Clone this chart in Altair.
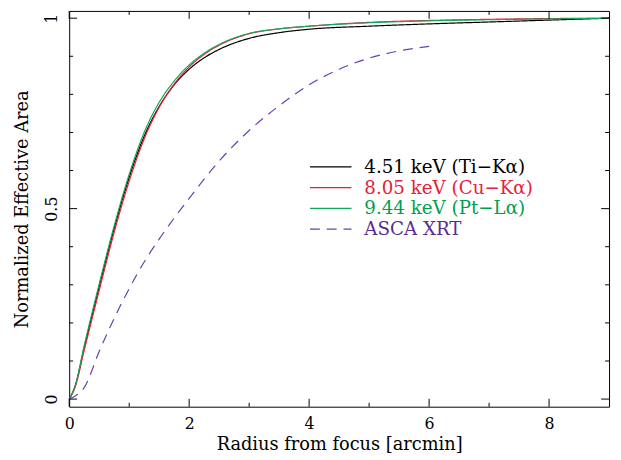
import altair as alt
import pandas as pd

# ---- data ----
r_main = [0, 0.1, 0.25, 0.5, 0.75, 1.0, 1.25, 1.5, 1.75, 2.0, 2.25, 2.5, 3.0, 3.5, 4.0, 5.0, 6.0, 7.0, 8.0, 9.0]
ti_k = [0, .035, .135, .295, .448, .582, .690, .768, .825, .866, .896, .918, .947, .962, .971, .979, .985, .990, .995, 1.0]
cu_k = [0, .032, .128, .285, .438, .572, .683, .766, .827, .872, .905, .929, .959, .972, .979, .989, .994, .997, .999, 1.0]
pt_l = [0, .035, .140, .302, .455, .590, .700, .779, .835, .877, .908, .931, .960, .972, .979, .988, .993, .996, .998, 1.0]

r_asca = [0, 0.1, 0.25, 0.5, 0.75, 1.0, 1.25, 1.5, 2.0, 2.5, 3.0, 3.5, 4.0, 4.5, 5.0, 5.5, 6.0]
asca = [0, .008, .030, .125, .212, .290, .360, .420, .527, .625, .705, .770, .825, .866, .895, .914, .926]

labels = ["4.51 keV (Ti\u2212K\u03b1)", "8.05 keV (Cu\u2212K\u03b1)", "9.44 keV (Pt\u2212L\u03b1)", "ASCA XRT"]
line_colors = ["#000000", "#ee1c32", "#12a85a", "#6a3fb0"]
text_colors = ["#000000", "#e8203a", "#00a050", "#5a2d8f"]
dashes = [[1, 0], [1, 0], [1, 0], [10, 7]]

x_major = [0, 2, 4, 6, 8]
x_minor = [1, 3, 5, 7]
y_major = [0, 0.5, 1]
y_minor = [0.1, 0.2, 0.3, 0.4, 0.6, 0.7, 0.8, 0.9]

x_title = "Radius from focus [arcmin]"
y_title = "Normalized Effective Area"

rows = []
for lab, vals in zip(labels[:3], [ti_k, cu_k, pt_l]):
    for r, v in zip(r_main, vals):
        rows.append({"r": r, "v": v, "series": lab})
for r, v in zip(r_asca, asca):
    rows.append({"r": r, "v": v, "series": labels[3]})
df = pd.DataFrame(rows)

W, H = 547, 401
FONT = "DejaVu Serif"

xs = alt.Scale(domain=[0, 9], nice=False, zero=False)
ys = alt.Scale(domain=[-0.02, 1.019], nice=False, zero=False)

x_axis = alt.Axis(values=x_major, ticks=False, domain=False, grid=False, labelFlush=False,
                  labelPadding=9, titlePadding=4, format="~g")
y_axis = alt.Axis(values=y_major, ticks=False, domain=False, grid=False, labelFlush=False,
                  labelAngle=270, labelAlign="center", labelBaseline="bottom",
                  labelPadding=10, titlePadding=12, format="~g")

label_expr = " : ".join(
    f"datum.label == '{l}' ? '{c}'" for l, c in zip(labels[:-1], text_colors[:-1])
) + f" : '{text_colors[-1]}'"

lines = alt.Chart(df).mark_line(strokeWidth=1.2, interpolate="monotone").encode(
    x=alt.X("r:Q", scale=xs, title=x_title, axis=x_axis),
    y=alt.Y("v:Q", scale=ys, title=y_title, axis=y_axis),
    color=alt.Color("series:N", scale=alt.Scale(domain=labels, range=line_colors),
                    legend=alt.Legend(title=None, orient="none", legendX=243, legendY=149,
                                      symbolType="stroke", symbolSize=1764, symbolStrokeWidth=1.2,
                                      clipHeight=18, rowPadding=2, labelOffset=12, padding=0,
                                      labelFont=FONT, labelFontSize=18.5, labelLimit=400,
                                      labelColor=alt.ExprRef(label_expr))),
    strokeDash=alt.StrokeDash("series:N", scale=alt.Scale(domain=labels, range=dashes), legend=None),
)


def xticks(vals, length):
    d = pd.DataFrame({"t": vals})
    enc_x = alt.X("t:Q", scale=xs, title=x_title, axis=x_axis)
    bot = alt.Chart(d).mark_rule(color="black", strokeWidth=1).encode(
        x=enc_x, y=alt.value(H), y2=alt.value(H - length))
    top = alt.Chart(d).mark_rule(color="black", strokeWidth=1).encode(
        x=enc_x, y=alt.value(0), y2=alt.value(length))
    return [bot, top]


def yticks(vals, length):
    d = pd.DataFrame({"t": vals})
    enc_y = alt.Y("t:Q", scale=ys, title=y_title, axis=y_axis)
    left = alt.Chart(d).mark_rule(color="black", strokeWidth=1).encode(
        y=enc_y, x=alt.value(0), x2=alt.value(length))
    right = alt.Chart(d).mark_rule(color="black", strokeWidth=1).encode(
        y=enc_y, x=alt.value(W), x2=alt.value(W - length))
    return [left, right]


tick_layers = xticks(x_major, 8) + xticks(x_minor, 4) + yticks(y_major, 8) + yticks(y_minor, 4)

chart = alt.layer(lines, *tick_layers).properties(
    width=W, height=H,
    autosize=alt.AutoSizeParams(type="none"),
    padding={"left": 62, "top": 0, "right": 4, "bottom": 50},
).configure_view(stroke="black", strokeWidth=1).configure_axis(
    labelFont=FONT, labelFontSize=16, labelColor="black",
    titleFont=FONT, titleFontSize=18, titleFontWeight="normal", titleColor="black",
)

chart.save("out.html", embed_options={"renderer": "svg", "actions": False})
